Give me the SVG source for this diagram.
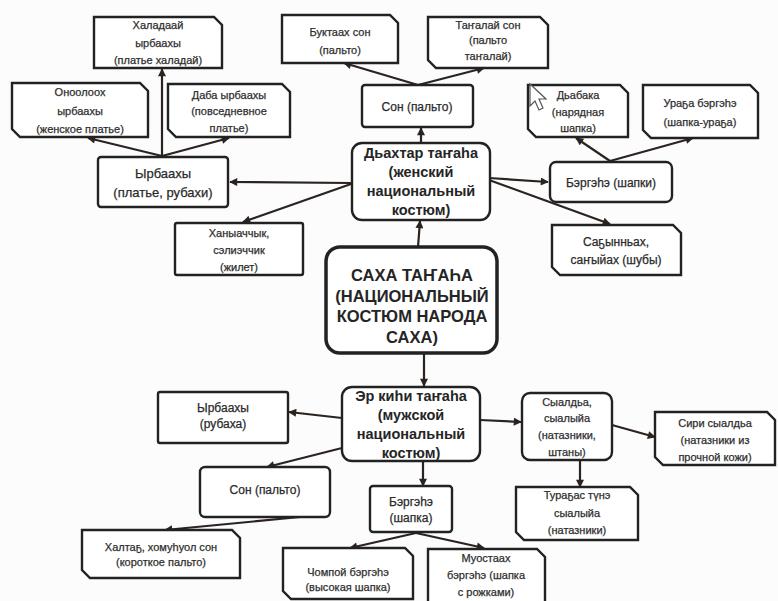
<svg xmlns="http://www.w3.org/2000/svg" width="778" height="601" viewBox="0 0 778 601">
<defs>
<marker id="ah" viewBox="0 0 10 10" refX="9" refY="5" markerWidth="9" markerHeight="8" markerUnits="userSpaceOnUse" orient="auto">
<path d="M0,0 L10,5 L0,10 Z" fill="#2b231f"/>
</marker>
<style>
.bx{fill:#fff;stroke:#222;stroke-width:2.4}
.main{fill:#fff;stroke:#222;stroke-width:3.5}
.t{font-family:"Liberation Sans",Arial,sans-serif;font-size:11px;fill:#2e2e2e;stroke:#2e2e2e;stroke-width:0.25;text-anchor:middle}
.m{font-family:"Liberation Sans",Arial,sans-serif;font-size:12px;fill:#2a2a2a;stroke:#2a2a2a;stroke-width:0.25;text-anchor:middle}
.h{font-family:"Liberation Sans",Arial,sans-serif;font-size:14.5px;font-weight:bold;fill:#252525;text-anchor:middle}
.c{font-family:"Liberation Sans",Arial,sans-serif;font-size:16.5px;font-weight:bold;fill:#252525;text-anchor:middle}
.e{fill:none;stroke:#2b231f;stroke-width:2.2;marker-end:url(#ah)}
</style>
</defs>
<rect x="0" y="0" width="778" height="601" fill="#fcfcfc"/>

<g id="connectors">
<line class="e" x1="162" y1="156" x2="162" y2="69"/>
<line class="e" x1="162" y1="156" x2="88" y2="138"/>
<line class="e" x1="162" y1="156" x2="229" y2="138"/>
<line class="e" x1="351" y1="183" x2="230" y2="182"/>
<line class="e" x1="351" y1="184" x2="243" y2="222"/>
<line class="e" x1="421" y1="143" x2="421" y2="128"/>
<line class="e" x1="418" y1="85" x2="344" y2="63"/>
<line class="e" x1="418" y1="85" x2="484" y2="68"/>
<line class="e" x1="489" y1="178" x2="548" y2="182"/>
<line class="e" x1="489" y1="180" x2="610" y2="224"/>
<line class="e" x1="610" y1="161" x2="576" y2="138"/>
<line class="e" x1="610" y1="161" x2="693" y2="138"/>
<line class="e" x1="418" y1="247" x2="420" y2="221"/>
<line class="e" x1="424" y1="353" x2="424" y2="386"/>
<line class="e" x1="342" y1="418" x2="289" y2="412"/>
<line class="e" x1="342" y1="448" x2="267" y2="467"/>
<line class="e" x1="423" y1="461" x2="423" y2="486"/>
<line class="e" x1="480" y1="420" x2="521" y2="422"/>
<line class="e" x1="612" y1="425" x2="655" y2="437"/>
<line class="e" x1="580" y1="460" x2="580" y2="487"/>
<line class="e" x1="300" y1="517" x2="165" y2="530"/>
<line class="e" x1="416" y1="533" x2="350" y2="548"/>
<line class="e" x1="416" y1="533" x2="484" y2="548"/>
</g>

<g id="n-haladaai">
<path class="bx" d="M94,17 H214 L222,25 V68 H94 Z"/>
<text class="t" x="158" y="29">Халадаай</text>
<text class="t" x="158" y="47">ырбаахы</text>
<text class="t" x="158" y="64">(платье халадай)</text>
</g>

<g id="n-onooloох">
<path class="bx" d="M12,83 H140 L148,91 V137 H20 L12,129 Z"/>
<text class="t" x="80" y="96">Оноолоох</text>
<text class="t" x="80" y="115">ырбаахы</text>
<text class="t" x="80" y="133">(женское платье)</text>
</g>

<g id="n-daba">
<path class="bx" d="M168,84 H282 L290,92 V137 H176 L168,129 Z"/>
<text class="t" x="229" y="99">Даба ырбаахы</text>
<text class="t" x="229" y="115">(повседневное</text>
<text class="t" x="229" y="132">платье)</text>
</g>

<g id="n-yrbaahy-f">
<rect class="bx" x="98" y="157" width="130" height="50" rx="3"/>
<text class="m" x="163" y="178" style="font-size:13px">Ырбаахы</text>
<text class="m" x="163" y="197" style="font-size:13px">(платье, рубахи)</text>
</g>

<g id="n-buktaah">
<path class="bx" d="M282,15 H390 L398,23 V63 H282 Z"/>
<text class="t" x="340" y="36">Буктаах сон</text>
<text class="t" x="340" y="54">(пальто)</text>
</g>

<g id="n-tangalai">
<path class="bx" d="M428,17 H540 L548,25 V68 H436 L428,60 Z"/>
<text class="t" x="488" y="29">Таҥалай сон</text>
<text class="t" x="488" y="44">(пальто</text>
<text class="t" x="488" y="60">таҥалай)</text>
</g>

<g id="n-son-f">
<rect class="bx" x="362" y="85" width="111" height="42" rx="3"/>
<text class="m" x="417" y="111">Сон (пальто)</text>
</g>

<g id="n-dyahtar">
<rect class="bx" x="352" y="143" width="138" height="77" rx="10"/>
<text class="h" x="421" y="158">Дьахтар таҥаһа</text>
<text class="h" x="421" y="177">(женский</text>
<text class="h" x="421" y="196">национальный</text>
<text class="h" x="421" y="215">костюм)</text>
</g>

<g id="n-dyabaka">
<path class="bx" d="M528,85 H620 L628,93 V137 H536 L528,129 Z"/>
<text class="t" x="578" y="99">Дьабака</text>
<text class="t" x="578" y="116">(нарядная</text>
<text class="t" x="578" y="132">шапка)</text>
</g>

<g id="n-uraga">
<path class="bx" d="M643,85 H750 L758,93 V138 H651 L643,130 Z"/>
<text class="t" x="700" y="107">Ураҕа бэргэһэ</text>
<text class="t" x="700" y="126">(шапка-ураҕа)</text>
</g>

<g id="n-bergehe-f">
<rect class="bx" x="550" y="162" width="122" height="40" rx="6"/>
<text class="m" x="611" y="187">Бэргэһэ (шапки)</text>
</g>

<g id="n-sagynnyah">
<path class="bx" d="M552,225 H673 L681,233 V275 H560 L552,267 Z"/>
<text class="m" x="616" y="246">Саҕынньах,</text>
<text class="m" x="616" y="264">саҥыйах (шубы)</text>
</g>

<g id="n-hanyachchyk">
<rect class="bx" x="175" y="223" width="128" height="52" rx="2"/>
<text class="t" x="239" y="237">Ханыаччык,</text>
<text class="t" x="239" y="254">сэлиэччик</text>
<text class="t" x="239" y="271">(жилет)</text>
</g>

<g id="n-saha">
<rect class="main" x="326" y="247" width="171" height="106" rx="14"/>
<text class="c" x="412" y="281">САХА ТАҤАҺА</text>
<text class="c" x="412" y="302">(НАЦИОНАЛЬНЫЙ</text>
<text class="c" x="412" y="322">КОСТЮМ НАРОДА</text>
<text class="c" x="412" y="343">САХА)</text>
</g>

<g id="n-er-kihi">
<rect class="bx" x="342" y="387" width="138" height="74" rx="10"/>
<text class="h" x="411" y="401">Эр киһи таҥаһа</text>
<text class="h" x="411" y="420">(мужской</text>
<text class="h" x="411" y="439">национальный</text>
<text class="h" x="411" y="458">костюм)</text>
</g>

<g id="n-yrbaahy-m">
<rect class="bx" x="158" y="392" width="130" height="51" rx="2"/>
<text class="m" x="223" y="412">Ырбаахы</text>
<text class="m" x="223" y="428">(рубаха)</text>
</g>

<g id="n-son-m">
<rect class="bx" x="200" y="467" width="130" height="50" rx="5"/>
<text class="m" x="265" y="494">Сон (пальто)</text>
</g>

<g id="n-bergehe-m">
<rect class="bx" x="370" y="486" width="82" height="46" rx="3"/>
<text class="m" x="411" y="506">Бэргэһэ</text>
<text class="m" x="411" y="522">(шапка)</text>
</g>

<g id="n-syaldya">
<rect class="bx" x="522" y="393" width="90" height="67" rx="8"/>
<text class="t" x="567" y="406">Сыалдьа,</text>
<text class="t" x="567" y="422">сыалыйа</text>
<text class="t" x="567" y="439">(натазники,</text>
<text class="t" x="567" y="456">штаны)</text>
</g>

<g id="n-siri">
<path class="bx" d="M655,412 H767 L775,420 V465 H663 L655,457 Z"/>
<text class="t" x="715" y="427">Сири сыалдьа</text>
<text class="t" x="715" y="444">(натазники из</text>
<text class="t" x="715" y="461">прочной кожи)</text>
</g>

<g id="n-turagas">
<path class="bx" d="M516,487 H630 L638,495 V540 H524 L516,532 Z"/>
<text class="t" x="577" y="499">Тураҕас түнэ</text>
<text class="t" x="577" y="517">сыалыйа</text>
<text class="t" x="577" y="534">(натазники)</text>
</g>

<g id="n-haltag">
<path class="bx" d="M82,530 H232 L240,538 V578 H90 L82,570 Z"/>
<text class="t" x="161" y="551">Халтаҕ, хомуһуол сон</text>
<text class="t" x="161" y="566">(короткое пальто)</text>
</g>

<g id="n-chompoi">
<path class="bx" d="M283,548 H405 L413,556 V599 H291 L283,591 Z"/>
<text class="t" x="348" y="576">Чомпой бэргэһэ</text>
<text class="t" x="348" y="591">(высокая шапка)</text>
</g>

<g id="n-muostaah">
<path class="bx" d="M428,549 H537 L545,557 V604 H428 Z"/>
<text class="t" x="486" y="562">Муостаах</text>
<text class="t" x="486" y="579">бэргэһэ (шапка</text>
<text class="t" x="486" y="596">с рожками)</text>
</g>

<path d="M530,84 L530,106 L535,101 L539,110 L543,108 L539,99 L546,99 Z" fill="#fff" stroke="#555" stroke-width="1.2"/>
</svg>
